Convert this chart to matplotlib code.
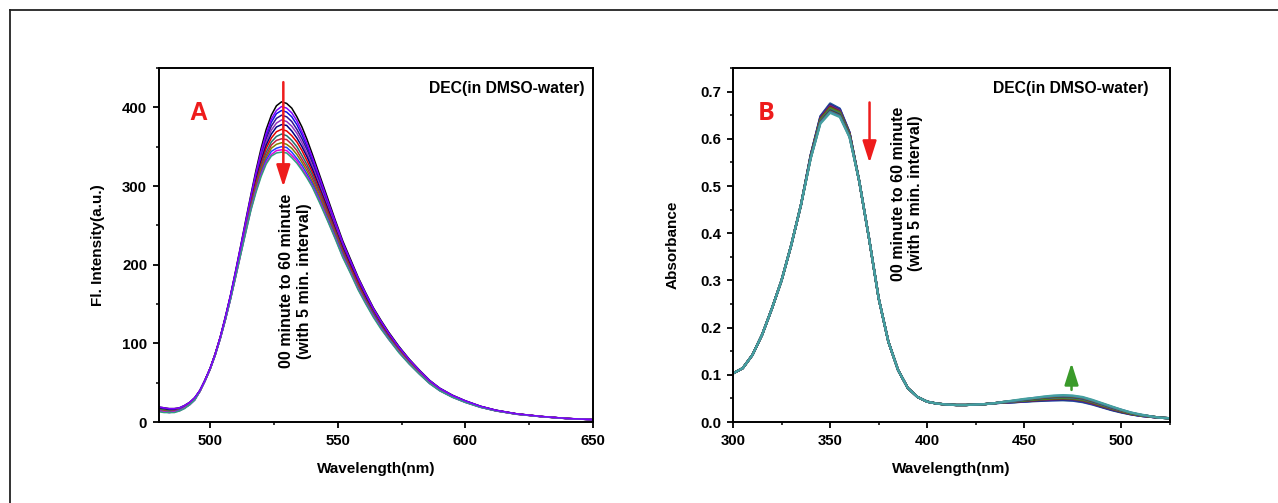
import numpy as np
import matplotlib
matplotlib.use("Agg")
import matplotlib.pyplot as plt
from matplotlib.lines import Line2D
from matplotlib.ticker import MultipleLocator, FormatStrFormatter

plt.rcParams['font.family'] = ['Liberation Sans', 'DejaVu Sans']

# ---------------- Panel A: fluorescence, 0..60 min every 5 min ----------------
times = [0, 5, 10, 15, 20, 25, 30, 35, 40, 45, 50, 55, 60]
fl_wavelength = [480, 482, 484, 486, 488, 490, 492, 494, 496, 498, 500, 502, 504,
                 506, 508, 510, 512, 514, 516, 518, 520, 522, 524, 526, 528, 530,
                 532, 534, 536, 538, 540, 543, 546, 549, 552, 555, 558, 561, 564,
                 567, 570, 574, 578, 582, 586, 590, 595, 600, 606, 612, 620, 630,
                 640, 650]
# one row per wavelength, one column per time (0, 5, ... 60 min)
fl_rows = [
    [19, 19, 18, 18, 17, 17, 16, 16, 15, 15, 14, 14, 13],
    [18, 18, 17, 17, 16, 16, 15, 15, 14, 14, 13, 13, 12],
    [17, 17, 16, 16, 15, 15, 14, 14, 13, 13, 12, 12, 12],
    [17, 17, 16, 16, 15, 15, 14, 14, 14, 13, 13, 13, 12],
    [18, 18, 17, 17, 17, 16, 16, 16, 15, 15, 15, 14, 14],
    [21, 21, 20, 20, 20, 19, 19, 19, 18, 18, 18, 18, 17],
    [25, 25, 24, 24, 24, 23, 23, 23, 23, 22, 22, 22, 22],
    [31, 31, 30, 30, 30, 30, 29, 29, 29, 29, 28, 28, 28],
    [40, 40, 40, 40, 40, 39, 39, 39, 39, 39, 39, 39, 39],
    [53, 53, 53, 53, 53, 53, 53, 53, 52, 52, 52, 52, 52],
    [68, 68, 68, 68, 68, 68, 67, 67, 67, 67, 67, 67, 67],
    [87, 86, 86, 86, 86, 86, 86, 85, 85, 85, 85, 85, 85],
    [108, 108, 108, 108, 107, 107, 107, 107, 107, 106, 106, 106, 106],
    [134, 133, 133, 132, 132, 132, 131, 131, 131, 130, 130, 130, 130],
    [161, 161, 160, 160, 159, 159, 158, 158, 157, 157, 156, 156, 156],
    [192, 191, 190, 190, 189, 188, 187, 187, 186, 185, 185, 184, 184],
    [224, 223, 222, 221, 220, 219, 218, 217, 216, 215, 214, 213, 213],
    [257, 255, 254, 253, 251, 250, 248, 247, 246, 244, 243, 242, 241],
    [289, 287, 286, 284, 282, 280, 278, 276, 274, 273, 271, 270, 269],
    [320, 317, 315, 313, 310, 308, 305, 302, 300, 298, 295, 294, 292],
    [348, 344, 342, 338, 335, 332, 328, 325, 322, 319, 316, 314, 312],
    [372, 367, 364, 360, 356, 352, 348, 343, 339, 336, 333, 330, 328],
    [390, 385, 381, 376, 371, 366, 361, 356, 352, 348, 344, 340, 338],
    [402, 396, 392, 386, 380, 375, 369, 363, 358, 353, 348, 345, 342],
    [407, 401, 396, 390, 384, 378, 372, 366, 360, 355, 350, 346, 343],
    [405, 399, 394, 388, 382, 377, 370, 364, 359, 353, 349, 345, 342],
    [399, 393, 388, 382, 376, 370, 364, 358, 353, 348, 343, 339, 336],
    [388, 383, 378, 372, 367, 361, 356, 350, 345, 340, 335, 332, 329],
    [375, 369, 365, 360, 355, 350, 345, 339, 334, 330, 326, 322, 320],
    [359, 354, 350, 346, 341, 337, 332, 327, 323, 319, 315, 312, 310],
    [341, 337, 334, 330, 326, 322, 318, 314, 310, 306, 303, 300, 299],
    [313, 310, 307, 304, 301, 297, 294, 291, 288, 285, 282, 280, 278],
    [285, 282, 280, 277, 275, 272, 269, 266, 264, 261, 259, 257, 256],
    [257, 255, 253, 251, 249, 246, 244, 242, 240, 238, 236, 234, 233],
    [230, 228, 226, 224, 223, 221, 219, 217, 215, 213, 212, 210, 209],
    [207, 205, 204, 202, 200, 199, 197, 195, 194, 192, 191, 190, 189],
    [184, 183, 181, 180, 178, 177, 176, 174, 173, 171, 170, 169, 168],
    [164, 163, 162, 160, 159, 158, 156, 155, 154, 153, 152, 151, 150],
    [145, 144, 143, 142, 141, 140, 139, 138, 136, 135, 135, 134, 133],
    [129, 128, 127, 126, 125, 124, 123, 122, 121, 120, 120, 119, 118],
    [114, 113, 112, 112, 111, 110, 109, 108, 107, 106, 106, 105, 105],
    [96, 95, 95, 94, 93, 93, 92, 91, 90, 90, 89, 89, 88],
    [80, 79.4, 78.9, 78.3, 77.7, 77.2, 76.6, 76.0, 75.4, 74.9, 74.4, 74.0, 73.7],
    [66.0, 65.5, 65.1, 64.6, 64.1, 63.7, 63.2, 62.7, 62.2, 61.8, 61.4, 61.1, 60.8],
    [53.0, 52.6, 52.3, 51.9, 51.5, 51.1, 50.7, 50.3, 50.0, 49.6, 49.3, 49.0, 48.8],
    [43.0, 42.7, 42.4, 42.1, 41.8, 41.5, 41.2, 40.8, 40.5, 40.3, 40.0, 39.8, 39.6],
    [34.0, 33.7, 33.5, 33.3, 33.0, 32.8, 32.5, 32.3, 32.0, 31.8, 31.6, 31.5, 31.3],
    [27.0, 26.8, 26.6, 26.4, 26.2, 26.0, 25.8, 25.6, 25.5, 25.3, 25.1, 25.0, 24.9],
    [20.0, 19.9, 19.8, 19.6, 19.5, 19.4, 19.2, 19.1, 19.0, 18.9, 18.7, 18.7, 18.6],
    [15.0, 14.9, 14.8, 14.8, 14.7, 14.6, 14.5, 14.4, 14.3, 14.2, 14.2, 14.1, 14.1],
    [10.5, 10.4, 10.4, 10.3, 10.3, 10.2, 10.2, 10.1, 10.1, 10.0, 10.0, 9.9, 9.9],
    [7.0, 7.0, 6.9, 6.9, 6.9, 6.9, 6.8, 6.8, 6.8, 6.8, 6.7, 6.7, 6.7],
    [4.5, 4.5, 4.5, 4.4, 4.4, 4.4, 4.4, 4.4, 4.4, 4.3, 4.3, 4.3, 4.3],
    [3.0, 3.0, 3.0, 3.0, 3.0, 3.0, 3.0, 3.0, 3.0, 3.0, 3.0, 3.0, 3.0],
]
fl_colors = ['#000000', '#7F00FF', '#1010E0', '#301090', '#9030C0', '#000080',
             '#E00000', '#207070', '#C02040', '#808000', '#2040FF', '#E000E0',
             '#30A080']

# ---------------- Panel B: absorbance ----------------
uv_wavelength = list(range(300, 530, 5))
uv_shared = {300: .103, 305: .114, 310: .142, 315: .185, 320: .240, 325: .300,
             330: .375, 335: .460, 365: .510, 370: .390, 375: .262, 380: .170,
             385: .110, 390: .072, 395: .053, 400: .043, 405: .039, 410: .037,
             415: .036, 420: .036, 425: .037, 430: .038, 435: .040, 520: .009,
             525: .008}
uv_varying = {
    340: [.566, .565, .565, .564, .563, .563, .562, .561, .561, .560, .559, .559, .558],
    345: [.648, .647, .645, .644, .643, .641, .640, .639, .637, .636, .635, .634, .632],
    350: [.675, .673, .672, .670, .668, .666, .665, .663, .661, .660, .658, .657, .655],
    355: [.664, .663, .661, .660, .658, .657, .655, .654, .652, .651, .649, .648, .646],
    360: [.614, .613, .612, .612, .611, .610, .609, .608, .607, .606, .605, .604, .603],
    440: [.041, .041, .041, .041, .042, .042, .042, .042, .042, .043, .043, .043, .043],
    445: [.042, .042, .042, .043, .043, .043, .044, .044, .044, .045, .045, .045, .046],
    450: [.043, .043, .044, .044, .045, .045, .046, .046, .047, .047, .048, .048, .049],
    455: [.044, .045, .045, .046, .046, .047, .048, .048, .049, .049, .050, .051, .051],
    460: [.045, .046, .046, .047, .048, .048, .049, .050, .051, .051, .052, .053, .054],
    465: [.046, .046, .047, .048, .049, .050, .050, .051, .052, .053, .054, .055, .056],
    470: [.046, .047, .048, .049, .049, .050, .051, .052, .053, .054, .055, .056, .057],
    475: [.045, .046, .047, .048, .049, .049, .050, .051, .052, .053, .054, .055, .056],
    480: [.042, .043, .044, .045, .046, .046, .047, .048, .049, .050, .051, .052, .053],
    485: [.037, .038, .039, .039, .040, .041, .042, .043, .043, .044, .045, .046, .047],
    490: [.031, .032, .032, .033, .034, .035, .035, .036, .037, .038, .039, .039, .040],
    495: [.025, .026, .026, .027, .028, .028, .029, .030, .030, .031, .032, .032, .033],
    500: [.020, .021, .021, .022, .022, .023, .023, .024, .024, .025, .025, .026, .026],
    505: [.016, .016, .017, .017, .017, .018, .018, .018, .019, .019, .019, .020, .020],
    510: [.013, .013, .013, .013, .014, .014, .014, .014, .015, .015, .015, .015, .016],
    515: [.011, .011, .011, .011, .011, .011, .012, .012, .012, .012, .012, .012, .012],
}
uv_colors = ['#2A5A8A', '#2040C0', '#203070', '#7020A0', '#802020', '#505050',
             '#707000', '#30A030', '#6040A0', '#205050', '#806020', '#4070B0',
             '#45A0A0']

time_text = "00 minute to 60 minute\n(with 5 min. interval)"
sample_text = "DEC(in DMSO-water)"

# ---------------- figure ----------------
W, H = 1278, 503
fig = plt.figure(figsize=(W / 100, H / 100), dpi=100)

axA = fig.add_axes([159 / W, 1 - 422 / H, 434 / W, 354 / H])
axB = fig.add_axes([733 / W, 1 - 422 / H, 437 / W, 354 / H])

fl = np.array(fl_rows, dtype=float)
order = list(range(len(times)))
order.remove(1)
order.append(1)
for i in order:
    axA.plot(fl_wavelength, fl[:, i], color=fl_colors[i], lw=1.1,
             solid_joinstyle='round')

for i in range(len(times)):
    vals = [uv_shared[w] if w in uv_shared else uv_varying[w][i] for w in uv_wavelength]
    axB.plot(uv_wavelength, vals, color=uv_colors[i], lw=1.6)

axA.set_xlim(480, 650)
axA.set_ylim(0, 450)
axB.set_xlim(300, 525)
axB.set_ylim(0, 0.75)

axA.xaxis.set_major_locator(MultipleLocator(50))
axA.xaxis.set_minor_locator(MultipleLocator(25))
axA.yaxis.set_major_locator(MultipleLocator(100))
axA.yaxis.set_minor_locator(MultipleLocator(50))
axB.xaxis.set_major_locator(MultipleLocator(50))
axB.xaxis.set_minor_locator(MultipleLocator(25))
axB.yaxis.set_major_locator(MultipleLocator(0.1))
axB.yaxis.set_minor_locator(MultipleLocator(0.05))
axB.yaxis.set_major_formatter(FormatStrFormatter('%.1f'))

for ax in (axA, axB):
    for sp in ax.spines.values():
        sp.set_linewidth(1.4)
    ax.tick_params(which='major', direction='out', length=4, width=1.3,
                   labelsize=10.8, pad=4.5)
    ax.tick_params(which='minor', direction='out', length=2.5, width=1.1)
    for lab in ax.get_xticklabels() + ax.get_yticklabels():
        lab.set_fontweight('bold')
    ax.set_xlabel('Wavelength(nm)', fontsize=11, fontweight='bold', labelpad=10)
    ax.text(0.981 if ax is axA else 0.95, 0.9435, sample_text, transform=ax.transAxes,
            ha='right', va='center', fontsize=11.3, fontweight='bold')

axA.set_ylabel('Fl. Intensity(a.u.)', fontsize=11, fontweight='bold', labelpad=12)
axB.set_ylabel('Absorbance', fontsize=11, fontweight='bold', labelpad=15)

axA.text(0.0906, 0.872, 'A', transform=axA.transAxes, color='#EE1C1C',
         fontsize=18, fontweight='bold', ha='center', va='center')
axB.text(0.077, 0.872, 'B', transform=axB.transAxes, color='#EE1C1C',
         fontsize=18, fontweight='bold', ha='center', va='center',
         family=['Open Sans', 'DejaVu Sans'])

axA.text(533.5, 179, time_text, rotation=90, ha='center', va='center',
         multialignment='center', fontsize=11.5, fontweight='bold', linespacing=1.2)
axB.text(389.5, 0.484, time_text, rotation=90, ha='center', va='center',
         multialignment='center', fontsize=11.5, fontweight='bold', linespacing=1.2)

arrow_red = dict(arrowstyle='-|>,head_width=0.35,head_length=1.1', color='#EE1C1C',
                 lw=1.8, shrinkA=0, shrinkB=0, mutation_scale=12)
axA.annotate('', xy=(528.7, 299), xytext=(528.7, 432), arrowprops=arrow_red, zorder=5)
axB.annotate('', xy=(370.3, 0.549), xytext=(370.3, 0.677), arrowprops=arrow_red, zorder=5)
arrow_green = dict(arrowstyle='-|>,head_width=0.35,head_length=1.1', color='#3A9A2A',
                   lw=1.8, shrinkA=0, shrinkB=0, mutation_scale=12)
axB.annotate('', xy=(474.3, 0.125), xytext=(474.3, 0.068), arrowprops=arrow_green, zorder=5)

# outer frame (top and left edges visible)
fig.add_artist(Line2D([10 / W, 10 / W], [0, 1 - 10 / H], transform=fig.transFigure,
                      color='#222222', lw=1.3))
fig.add_artist(Line2D([10 / W, 1], [1 - 10 / H, 1 - 10 / H], transform=fig.transFigure,
                      color='#222222', lw=1.3))

fig.savefig('out.png', dpi=100)
